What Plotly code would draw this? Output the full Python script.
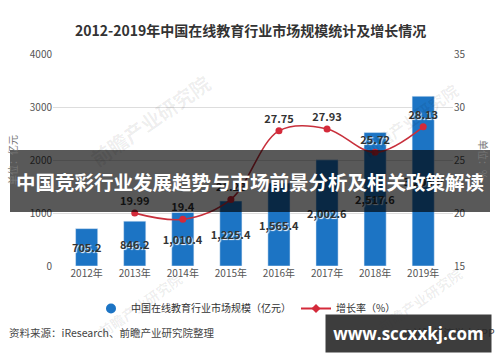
import plotly.graph_objects as go

years = ["2012年", "2013年", "2014年", "2015年", "2016年", "2017年", "2018年", "2019年"]
market_size = [705.2, 846.2, 1010.4, 1225.4, 1565.4, 2002.6, 2517.6, 3203.0]
growth_rate = [None, 19.99, 19.4, 21.28, 27.75, 27.93, 25.72, 28.13]

size_name = "中国在线教育行业市场规模（亿元）"
rate_name = "增长率（%）"
title_text = "2012-2019年中国在线教育行业市场规模统计及增长情况"
band_text = "中国竞彩行业发展趋势与市场前景分析及相关政策解读"
source_text = "资料来源：iResearch、前瞻产业研究院整理"

CJK = "Noto Sans CJK SC"
BLUE = "#1c74c4"
RED = "#d42a3a"

# plot area in pixels: x 53..453, y 54..266
def px(x):
    return (x - 53) / 400.0

def py(y):
    return (266 - y) / 212.0

fig = go.Figure()

fig.add_trace(go.Bar(
    x=years, y=market_size, yaxis="y", marker_color=BLUE, width=0.46,
    texttemplate="%{y:,.1f}", textposition="inside", insidetextanchor="middle",
    textangle=0, constraintext="none",
    insidetextfont=dict(family=CJK, size=11, color="#333333", weight="bold",
                        shadow="1px 1px 1px white"),
    showlegend=False, hoverinfo="skip",
))

fig.add_trace(go.Scatter(
    x=years, y=growth_rate, yaxis="y2", mode="lines+markers+text",
    line=dict(color="#c8303c", width=1.6, shape="spline", smoothing=1),
    marker=dict(color=RED, size=7),
    texttemplate="%{y}", textposition="top center",
    textfont=dict(family=CJK, size=11, color="#333333", weight="bold",
                  shadow="1px 1px 1px white"),
    showlegend=False, connectgaps=False, hoverinfo="skip",
))

# legend entries
fig.add_trace(go.Scatter(x=[None], y=[None], mode="markers", name=size_name,
                         marker=dict(color=BLUE, size=10, symbol="circle")))
fig.add_trace(go.Scatter(x=[None], y=[None], mode="lines+markers", name=rate_name,
                         line=dict(color=RED, width=2),
                         marker=dict(color=RED, size=7, symbol="diamond")))

def ann(text, x, y, size, color, xanchor="center", **kw):
    d = dict(text=text, x=px(x), y=py(y), xref="paper", yref="paper",
             xanchor=xanchor, yanchor="middle", showarrow=False,
             font=dict(family=kw.pop("family", CJK), size=size, color=color,
                       weight=kw.pop("weight", "normal")))
    d.update(kw)
    return d

annotations = [
    ann(title_text, 250, 30, 14, "#333333", weight="bold"),
    ann("单位：亿元", 12, 160, 10, "#777777", textangle=-90),
    ann("单位：%", 484, 160, 10, "#777777", textangle=90),
    ann(source_text, 7, 332, 10.5, "#444444", xanchor="left"),
]

# faint watermarks
for (wx, wy, ws) in [(150, 120, 20), (410, 120, 16), (140, 305, 14), (420, 300, 14)]:
    annotations.append(ann("前瞻产业研究院", wx, wy, ws, "rgba(0,0,0,0.07)",
                           weight="bold", textangle=-35))

annotations += [
    ann(band_text, 250, 181, 19.5, "white", weight="bold"),
    ann("@前瞻经济学人APP", 497, 332, 10.5, "#444444", xanchor="right"),
    ann("www.sccxxkj.com", 408.5, 333.5, 17, "white", weight="bold", family="Open Sans",
        width=161, height=33, borderpad=2, bgcolor="rgba(40,40,40,0.9)"),
]

shapes = [
    dict(type="rect", xref="paper", yref="paper", x0=px(10), x1=px(490),
         y0=py(212), y1=py(150), fillcolor="rgba(0,0,0,0.65)", line_width=0, layer="above"),
]

fig.update_layout(
    width=500, height=362,
    margin=dict(l=53, r=47, t=54, b=96, autoexpand=False),
    paper_bgcolor="white", plot_bgcolor="white",
    bargap=0.54,
    xaxis=dict(range=[-0.7, 7.62], showgrid=False, showline=False, zeroline=False,
               ticks="", tickfont=dict(family=CJK, size=10, color="#555555")),
    yaxis=dict(range=[0, 4000], dtick=1000, showgrid=True, gridcolor="#dddddd",
               gridwidth=1, zeroline=False, ticks="", showline=False,
               tickfont=dict(family=CJK, size=10, color="#555555")),
    yaxis2=dict(range=[15, 35], dtick=5, overlaying="y", side="right", showgrid=False,
                zeroline=False, ticks="", showline=False,
                tickfont=dict(family=CJK, size=10, color="#555555")),
    legend=dict(orientation="h", x=px(246), xanchor="center", y=py(294), yanchor="top",
                font=dict(family=CJK, size=10, color="#333333"),
                bgcolor="rgba(0,0,0,0)", tracegroupgap=0),
    annotations=annotations,
    shapes=shapes,
)

fig.write_html("out.html", config={"displayModeBar": False},
               post_script="document.body.style.margin='0';document.body.style.overflow='hidden';")
